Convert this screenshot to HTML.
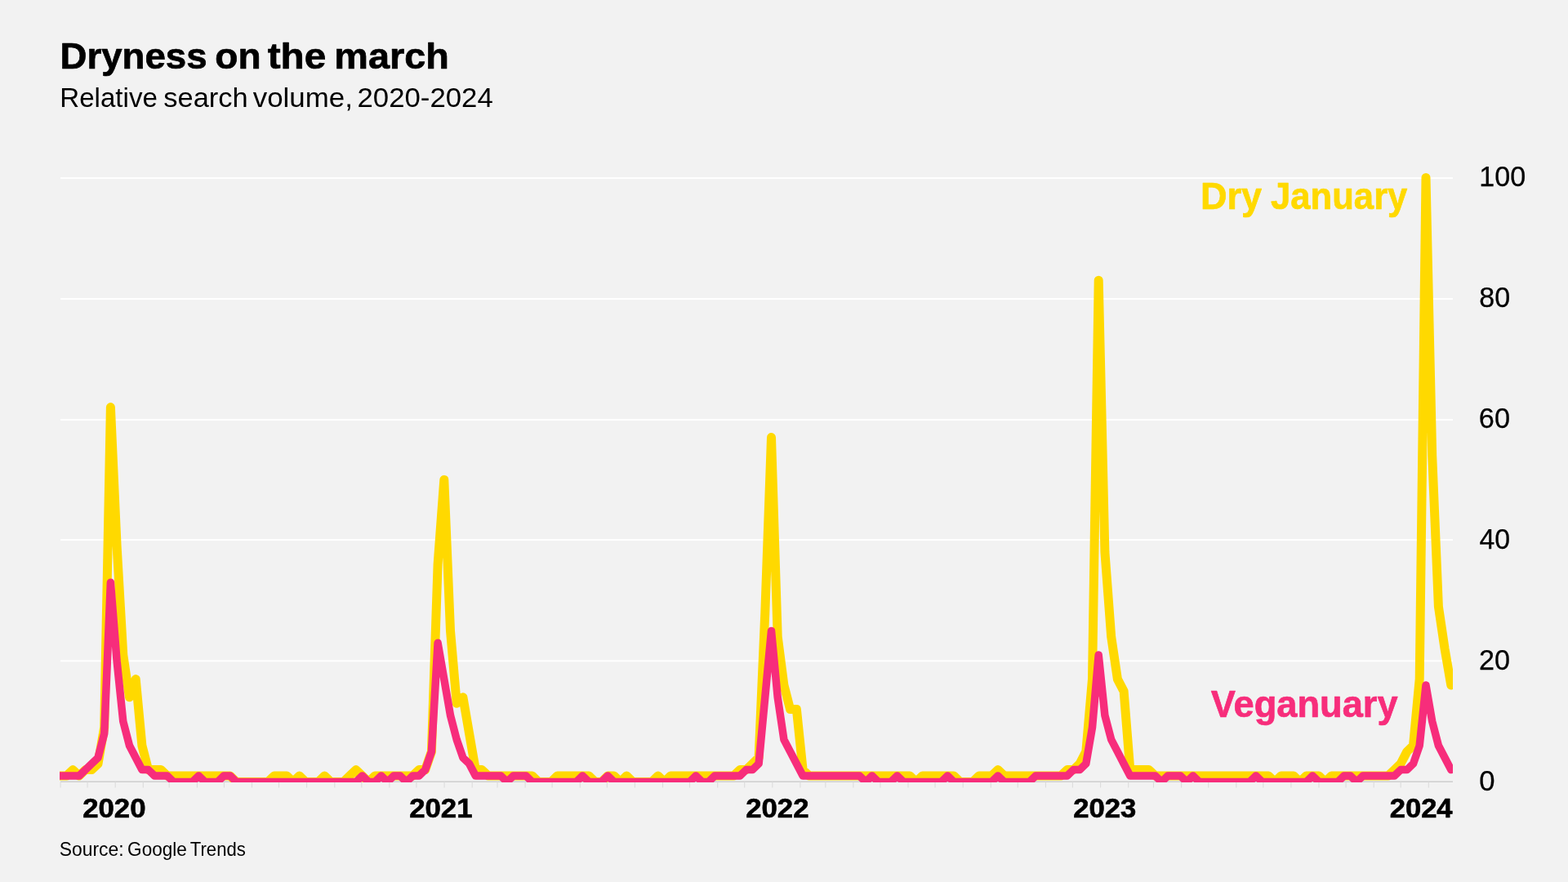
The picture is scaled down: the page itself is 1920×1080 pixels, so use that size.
<!DOCTYPE html>
<html lang="en"><head><meta charset="utf-8"><title>Dryness on the march</title>
<style>
html,body{margin:0;padding:0;background:#f2f2f2;}
body{width:1920px;height:1080px;overflow:hidden;position:relative;font-family:"Liberation Sans",sans-serif;}
svg{position:absolute;left:0;top:0;display:block;}
text{font-family:"Liberation Sans",sans-serif;}
</style></head><body>
<svg width="1920" height="1080" viewBox="0 0 1920 1080">
<defs><clipPath id="c"><rect x="73" y="150" width="1706" height="808"/></clipPath></defs>
<rect width="1920" height="1080" fill="#f2f2f2"/>
<text y="83.7" font-size="44.3" font-weight="700" fill="#000" stroke="#000" stroke-width="0.7" stroke-linejoin="round"><tspan x="73.42" textLength="180.22" lengthAdjust="spacingAndGlyphs">Dryness</tspan> <tspan x="263.34" textLength="56.23" lengthAdjust="spacingAndGlyphs">on</tspan> <tspan x="327.73" textLength="71.56" lengthAdjust="spacingAndGlyphs">the</tspan> <tspan x="409.36" textLength="140.55" lengthAdjust="spacingAndGlyphs">march</tspan></text>
<text y="131.0" font-size="34.0" fill="#000"><tspan x="73.32" textLength="119.53" lengthAdjust="spacingAndGlyphs">Relative</tspan> <tspan x="200.29" textLength="103.35" lengthAdjust="spacingAndGlyphs">search</tspan> <tspan x="309.74" textLength="122.1" lengthAdjust="spacingAndGlyphs">volume,</tspan> <tspan x="437.51" textLength="166.32" lengthAdjust="spacingAndGlyphs">2020-2024</tspan></text>
<g><rect x="74" y="808.3" width="1705" height="2" fill="#fff"/><rect x="74" y="660.1" width="1705" height="2" fill="#fff"/><rect x="74" y="513.0" width="1705" height="2" fill="#fff"/><rect x="74" y="365.0" width="1705" height="2" fill="#fff"/><rect x="74" y="217.1" width="1705" height="2" fill="#fff"/></g>
<rect x="74" y="956.4" width="1705" height="1.6" fill="#d0d0d0"/>
<g stroke="#dcdcdc" stroke-width="1.1" fill="none"><path d="M74.1,957.5V964.5"/><path d="M107.1,957.5V964.5"/><path d="M141.2,957.5V964.5"/><path d="M175.3,957.5V964.5"/><path d="M207.2,957.5V964.5"/><path d="M241.4,957.5V964.5"/><path d="M274.4,957.5V964.5"/><path d="M308.5,957.5V964.5"/><path d="M341.5,957.5V964.5"/><path d="M375.6,957.5V964.5"/><path d="M409.8,957.5V964.5"/><path d="M442.8,957.5V964.5"/><path d="M476.9,957.5V964.5"/><path d="M509.9,957.5V964.5"/><path d="M544.1,957.5V964.5"/><path d="M578.2,957.5V964.5"/><path d="M609.0,957.5V964.5"/><path d="M643.1,957.5V964.5"/><path d="M676.1,957.5V964.5"/><path d="M710.3,957.5V964.5"/><path d="M743.3,957.5V964.5"/><path d="M777.4,957.5V964.5"/><path d="M811.5,957.5V964.5"/><path d="M844.5,957.5V964.5"/><path d="M878.7,957.5V964.5"/><path d="M911.7,957.5V964.5"/><path d="M945.8,957.5V964.5"/><path d="M979.9,957.5V964.5"/><path d="M1010.8,957.5V964.5"/><path d="M1044.9,957.5V964.5"/><path d="M1077.9,957.5V964.5"/><path d="M1112.0,957.5V964.5"/><path d="M1145.0,957.5V964.5"/><path d="M1179.2,957.5V964.5"/><path d="M1213.3,957.5V964.5"/><path d="M1246.3,957.5V964.5"/><path d="M1280.4,957.5V964.5"/><path d="M1313.4,957.5V964.5"/><path d="M1347.6,957.5V964.5"/><path d="M1381.7,957.5V964.5"/><path d="M1412.5,957.5V964.5"/><path d="M1446.6,957.5V964.5"/><path d="M1479.7,957.5V964.5"/><path d="M1513.8,957.5V964.5"/><path d="M1546.8,957.5V964.5"/><path d="M1580.9,957.5V964.5"/><path d="M1615.0,957.5V964.5"/><path d="M1648.1,957.5V964.5"/><path d="M1682.2,957.5V964.5"/><path d="M1715.2,957.5V964.5"/><path d="M1749.3,957.5V964.5"/></g>
<g clip-path="url(#c)" fill="none" stroke-linejoin="round" stroke-linecap="round">
<path stroke="#ffd900" stroke-width="11" d="M73.8,950.0L81.5,950.0L89.2,942.6L96.9,950.0L104.6,942.6L112.3,942.6L120.0,935.2L127.7,890.8L135.4,498.6L143.1,668.8L150.8,802.0L158.5,853.8L166.2,831.6L173.9,913.0L181.6,942.6L189.3,942.6L197.0,942.6L204.8,950.0L212.5,950.0L220.2,950.0L227.9,950.0L235.6,950.0L243.3,950.0L251.0,950.0L258.7,950.0L266.4,950.0L274.1,950.0L281.8,950.0L289.5,957.4L297.2,957.4L304.9,957.4L312.6,957.4L320.3,957.4L328.0,957.4L335.8,950.0L343.5,950.0L351.2,950.0L358.9,957.4L366.6,950.0L374.3,957.4L382.0,957.4L389.7,957.4L397.4,950.0L405.1,957.4L412.8,957.4L420.5,957.4L428.2,950.0L435.9,942.6L443.6,950.0L451.3,957.4L459.1,950.0L466.8,950.0L474.5,950.0L482.2,950.0L489.9,950.0L497.6,950.0L505.3,950.0L513.0,942.6L520.7,942.6L528.4,920.4L536.1,691.0L543.8,587.4L551.5,772.4L559.2,861.2L566.9,853.8L574.6,898.2L582.3,942.6L590.1,942.6L597.8,950.0L605.5,950.0L613.2,950.0L620.9,950.0L628.6,950.0L636.3,950.0L644.0,950.0L651.7,950.0L659.4,957.4L667.1,957.4L674.8,957.4L682.5,950.0L690.2,950.0L697.9,950.0L705.6,950.0L713.3,950.0L721.1,950.0L728.8,957.4L736.5,957.4L744.2,950.0L751.9,950.0L759.6,957.4L767.3,950.0L775.0,957.4L782.7,957.4L790.4,957.4L798.1,957.4L805.8,950.0L813.5,957.4L821.2,950.0L828.9,950.0L836.6,950.0L844.4,950.0L852.1,950.0L859.8,950.0L867.5,950.0L875.2,950.0L882.9,950.0L890.6,950.0L898.3,950.0L906.0,942.6L913.7,942.6L921.4,935.2L929.1,927.8L936.8,750.2L944.5,535.6L952.2,779.8L959.9,839.0L967.6,868.6L975.4,868.6L983.1,942.6L990.8,950.0L998.5,950.0L1006.2,950.0L1013.9,950.0L1021.6,950.0L1029.3,950.0L1037.0,950.0L1044.7,950.0L1052.4,950.0L1060.1,950.0L1067.8,950.0L1075.5,950.0L1083.2,950.0L1090.9,950.0L1098.6,950.0L1106.4,950.0L1114.1,950.0L1121.8,957.4L1129.5,950.0L1137.2,950.0L1144.9,950.0L1152.6,950.0L1160.3,950.0L1168.0,950.0L1175.7,957.4L1183.4,957.4L1191.1,957.4L1198.8,950.0L1206.5,950.0L1214.2,950.0L1221.9,942.6L1229.7,950.0L1237.4,950.0L1245.1,950.0L1252.8,950.0L1260.5,950.0L1268.2,950.0L1275.9,950.0L1283.6,950.0L1291.3,950.0L1299.0,950.0L1306.7,942.6L1314.4,942.6L1322.1,935.2L1329.8,920.4L1337.5,831.6L1345.2,343.2L1352.9,676.2L1360.7,779.8L1368.4,831.6L1376.1,846.4L1383.8,942.6L1391.5,942.6L1399.2,942.6L1406.9,942.6L1414.6,950.0L1422.3,950.0L1430.0,950.0L1437.7,950.0L1445.4,950.0L1453.1,950.0L1460.8,950.0L1468.5,950.0L1476.2,950.0L1483.9,950.0L1491.7,950.0L1499.4,950.0L1507.1,950.0L1514.8,950.0L1522.5,950.0L1530.2,950.0L1537.9,950.0L1545.6,950.0L1553.3,950.0L1561.0,957.4L1568.7,950.0L1576.4,950.0L1584.1,950.0L1591.8,957.4L1599.5,950.0L1607.2,950.0L1615.0,950.0L1622.7,957.4L1630.4,950.0L1638.1,950.0L1645.8,950.0L1653.5,950.0L1661.2,950.0L1668.9,950.0L1676.6,950.0L1684.3,950.0L1692.0,950.0L1699.7,950.0L1707.4,942.6L1715.1,935.2L1722.8,920.4L1730.5,913.0L1738.2,831.6L1746.0,217.4L1753.7,557.8L1761.4,742.8L1769.1,794.6L1776.8,839.0"/>
<path stroke="#f72d7b" stroke-width="9.5" d="M73.8,950.0L81.5,950.0L89.2,950.0L96.9,950.0L104.6,942.6L112.3,935.2L120.0,927.8L127.7,898.2L135.4,713.2L143.1,809.4L150.8,883.4L158.5,913.0L166.2,927.8L173.9,942.6L181.6,942.6L189.3,950.0L197.0,950.0L204.8,950.0L212.5,957.4L220.2,957.4L227.9,957.4L235.6,957.4L243.3,950.0L251.0,957.4L258.7,957.4L266.4,957.4L274.1,950.0L281.8,950.0L289.5,957.4L297.2,957.4L304.9,957.4L312.6,957.4L320.3,957.4L328.0,957.4L335.8,957.4L343.5,957.4L351.2,957.4L358.9,957.4L366.6,957.4L374.3,957.4L382.0,957.4L389.7,957.4L397.4,957.4L405.1,957.4L412.8,957.4L420.5,957.4L428.2,957.4L435.9,957.4L443.6,950.0L451.3,957.4L459.1,957.4L466.8,950.0L474.5,957.4L482.2,950.0L489.9,950.0L497.6,957.4L505.3,950.0L513.0,950.0L520.7,942.6L528.4,920.4L536.1,787.2L543.8,831.6L551.5,876.0L559.2,905.6L566.9,927.8L574.6,935.2L582.3,950.0L590.1,950.0L597.8,950.0L605.5,950.0L613.2,950.0L620.9,957.4L628.6,950.0L636.3,950.0L644.0,950.0L651.7,957.4L659.4,957.4L667.1,957.4L674.8,957.4L682.5,957.4L690.2,957.4L697.9,957.4L705.6,957.4L713.3,950.0L721.1,957.4L728.8,957.4L736.5,957.4L744.2,950.0L751.9,957.4L759.6,957.4L767.3,957.4L775.0,957.4L782.7,957.4L790.4,957.4L798.1,957.4L805.8,957.4L813.5,957.4L821.2,957.4L828.9,957.4L836.6,957.4L844.4,957.4L852.1,950.0L859.8,957.4L867.5,957.4L875.2,950.0L882.9,950.0L890.6,950.0L898.3,950.0L906.0,950.0L913.7,942.6L921.4,942.6L929.1,935.2L936.8,853.8L944.5,772.4L952.2,853.8L959.9,905.6L967.6,920.4L975.4,935.2L983.1,950.0L990.8,950.0L998.5,950.0L1006.2,950.0L1013.9,950.0L1021.6,950.0L1029.3,950.0L1037.0,950.0L1044.7,950.0L1052.4,950.0L1060.1,957.4L1067.8,950.0L1075.5,957.4L1083.2,957.4L1090.9,957.4L1098.6,950.0L1106.4,957.4L1114.1,957.4L1121.8,957.4L1129.5,957.4L1137.2,957.4L1144.9,957.4L1152.6,957.4L1160.3,950.0L1168.0,957.4L1175.7,957.4L1183.4,957.4L1191.1,957.4L1198.8,957.4L1206.5,957.4L1214.2,957.4L1221.9,950.0L1229.7,957.4L1237.4,957.4L1245.1,957.4L1252.8,957.4L1260.5,957.4L1268.2,950.0L1275.9,950.0L1283.6,950.0L1291.3,950.0L1299.0,950.0L1306.7,950.0L1314.4,942.6L1322.1,942.6L1329.8,935.2L1337.5,890.8L1345.2,802.0L1352.9,876.0L1360.7,905.6L1368.4,920.4L1376.1,935.2L1383.8,950.0L1391.5,950.0L1399.2,950.0L1406.9,950.0L1414.6,950.0L1422.3,957.4L1430.0,950.0L1437.7,950.0L1445.4,950.0L1453.1,957.4L1460.8,950.0L1468.5,957.4L1476.2,957.4L1483.9,957.4L1491.7,957.4L1499.4,957.4L1507.1,957.4L1514.8,957.4L1522.5,957.4L1530.2,957.4L1537.9,950.0L1545.6,957.4L1553.3,957.4L1561.0,957.4L1568.7,957.4L1576.4,957.4L1584.1,957.4L1591.8,957.4L1599.5,957.4L1607.2,950.0L1615.0,957.4L1622.7,957.4L1630.4,957.4L1638.1,957.4L1645.8,950.0L1653.5,950.0L1661.2,957.4L1668.9,950.0L1676.6,950.0L1684.3,950.0L1692.0,950.0L1699.7,950.0L1707.4,950.0L1715.1,942.6L1722.8,942.6L1730.5,935.2L1738.2,913.0L1746.0,839.0L1753.7,883.4L1761.4,913.0L1769.1,927.8L1776.8,942.6"/>
</g>
<g><text x="1811.35" y="967.5" font-size="34.5" fill="#000" stroke="#000" stroke-width="0.25" stroke-linejoin="round" textLength="19.24" lengthAdjust="spacingAndGlyphs">0</text><text x="1811.11" y="819.5" font-size="34.5" fill="#000" stroke="#000" stroke-width="0.25" stroke-linejoin="round" textLength="38.0" lengthAdjust="spacingAndGlyphs">20</text><text x="1811.56" y="671.5" font-size="34.5" fill="#000" stroke="#000" stroke-width="0.25" stroke-linejoin="round" textLength="37.64" lengthAdjust="spacingAndGlyphs">40</text><text x="1810.86" y="523.5" font-size="34.5" fill="#000" stroke="#000" stroke-width="0.25" stroke-linejoin="round" textLength="38.16" lengthAdjust="spacingAndGlyphs">60</text><text x="1811.22" y="375.5" font-size="34.5" fill="#000" stroke="#000" stroke-width="0.25" stroke-linejoin="round" textLength="37.89" lengthAdjust="spacingAndGlyphs">80</text><text x="1811.28" y="227.5" font-size="34.5" fill="#000" stroke="#000" stroke-width="0.25" stroke-linejoin="round" textLength="56.92" lengthAdjust="spacingAndGlyphs">100</text></g>
<g><text x="101.19" y="1000.6" font-size="32.3" font-weight="700" fill="#000" stroke="#000" stroke-width="0.6" stroke-linejoin="round" textLength="77.3" lengthAdjust="spacingAndGlyphs">2020</text><text x="501.19" y="1000.6" font-size="32.3" font-weight="700" fill="#000" stroke="#000" stroke-width="0.6" stroke-linejoin="round" textLength="77.36" lengthAdjust="spacingAndGlyphs">2021</text><text x="913.19" y="1000.6" font-size="32.3" font-weight="700" fill="#000" stroke="#000" stroke-width="0.6" stroke-linejoin="round" textLength="77.3" lengthAdjust="spacingAndGlyphs">2022</text><text x="1314.2" y="1000.6" font-size="32.3" font-weight="700" fill="#000" stroke="#000" stroke-width="0.6" stroke-linejoin="round" textLength="77.03" lengthAdjust="spacingAndGlyphs">2023</text><text x="1701.7" y="1000.6" font-size="32.3" font-weight="700" fill="#000" stroke="#000" stroke-width="0.6" stroke-linejoin="round" textLength="76.9" lengthAdjust="spacingAndGlyphs">2024</text></g>
<text y="255.9" font-size="45.5" font-weight="700" fill="#ffd900" stroke="#ffd900" stroke-width="0.7" stroke-linejoin="round"><tspan x="1469.97" textLength="75.2" lengthAdjust="spacingAndGlyphs">Dry</tspan> <tspan x="1556.01" textLength="167.4" lengthAdjust="spacingAndGlyphs">January</tspan></text>
<text x="1482.8" y="877.8" font-size="45.5" font-weight="700" fill="#f72d7b" stroke="#f72d7b" stroke-width="0.7" stroke-linejoin="round" textLength="228.81" lengthAdjust="spacingAndGlyphs">Veganuary</text>
<text y="1047.5" font-size="23.6" fill="#000"><tspan x="72.79" textLength="78.81" lengthAdjust="spacingAndGlyphs">Source:</tspan> <tspan x="156.11" textLength="72.64" lengthAdjust="spacingAndGlyphs">Google</tspan> <tspan x="232.83" textLength="67.93" lengthAdjust="spacingAndGlyphs">Trends</tspan></text>
</svg>
</body></html>
